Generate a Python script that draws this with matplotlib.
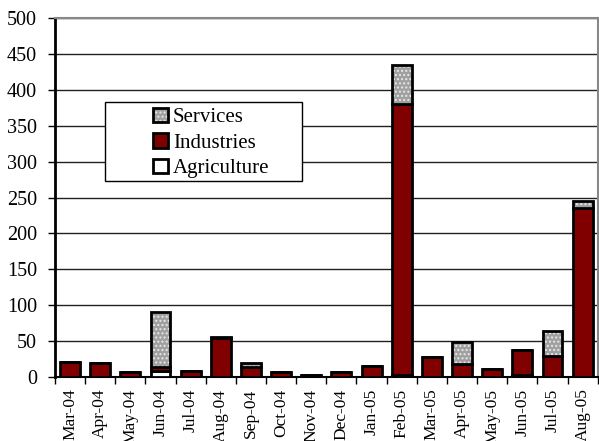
import numpy as np
import matplotlib
matplotlib.use("Agg")
import matplotlib.pyplot as plt
from matplotlib.patches import Patch, Rectangle
from matplotlib.legend_handler import HandlerTuple

months = ["Mar-04", "Apr-04", "May-04", "Jun-04", "Jul-04", "Aug-04",
          "Sep-04", "Oct-04", "Nov-04", "Dec-04", "Jan-05", "Feb-05",
          "Mar-05", "Apr-05", "May-05", "Jun-05", "Jul-05", "Aug-05"]
agriculture = [0, 0, 0, 8, 0, 0, 0, 0, 0, 0, 0, 2, 0, 0, 0, 3, 0, 0]
industries = [21, 19, 6, 5, 8, 54, 14, 7, 3, 7, 15, 379, 27, 18, 11, 34, 29, 235]
services = [0, 0, 0, 77, 0, 2, 5, 0, 0, 0, 0, 54, 0, 30, 0, 0, 35, 10]

plt.rcParams["font.family"] = ["Liberation Serif", "DejaVu Serif"]

fig = plt.figure(figsize=(5.99, 4.41), dpi=100)
ax = fig.add_axes([0.0918, 0.1458, 0.906, 0.8127])

x = np.arange(len(months))
agri = np.array(agriculture, dtype=float)
ind = np.array(industries, dtype=float)
serv = np.array(services, dtype=float)
w = 0.66
red = "#800000"

ax.bar(x, agri, w, color="white", edgecolor="black", linewidth=2, zorder=3)
ax.bar(x, ind, w, bottom=agri, color=red, edgecolor="black", linewidth=2, zorder=3)
# dotted grey fill for services, then the black outline on top
ax.bar(x, serv, w, bottom=agri + ind, color="#a0a0a0", edgecolor="#e8e8e8",
       hatch="....", linewidth=0, zorder=3)
ax.bar(x, serv, w, bottom=agri + ind, fill=False, edgecolor="black",
       linewidth=2, zorder=4)

ax.set_xlim(-0.5, len(months) - 0.5)
ax.set_ylim(0, 500)
ax.set_yticks(np.arange(0, 501, 50))
ax.yaxis.grid(True, color="#222222", linewidth=1)
ax.set_axisbelow(True)

ax.set_xticks(x)
ax.set_xticklabels(months, rotation=90, fontsize=12.5)
ax.set_xticks(np.arange(-0.5, len(months), 1.0), minor=True)
ax.tick_params(axis="x", which="major", length=0, pad=8.5)
ax.tick_params(axis="x", which="minor", length=5, width=1, direction="out")
ax.tick_params(axis="y", length=5, width=1, direction="out", pad=8, labelsize=14.5)

ax.spines["left"].set_linewidth(2)
ax.spines["bottom"].set_linewidth(1.5)
ax.spines["top"].set_color("#888888")
ax.spines["top"].set_linewidth(1.5)
ax.spines["right"].set_color("#888888")
ax.spines["right"].set_linewidth(1.5)

# legend box
ax.add_patch(Rectangle((0.0916, 0.546), 0.364, 0.2205, transform=ax.transAxes,
                       facecolor="white", edgecolor="black", linewidth=1, zorder=5))
h_serv = (Patch(facecolor="#a0a0a0", edgecolor="#e8e8e8", hatch="....", linewidth=0),
          Patch(fill=False, edgecolor="black", linewidth=2))
h_ind = Patch(facecolor=red, edgecolor="black", linewidth=2)
h_agr = Patch(facecolor="white", edgecolor="black", linewidth=2)
leg = ax.legend([h_serv, h_ind, h_agr], ["Services", "Industries", "Agriculture"],
                handler_map={tuple: HandlerTuple(ndivide=1, pad=0)},
                loc="upper left", bbox_to_anchor=(0.18, 0.751), frameon=False,
                borderpad=0, borderaxespad=0, handlelength=0.72, handleheight=0.72,
                handletextpad=0.25, labelspacing=0.28, fontsize=15)
leg.set_zorder(6)

fig.savefig("out.png", dpi=100)
